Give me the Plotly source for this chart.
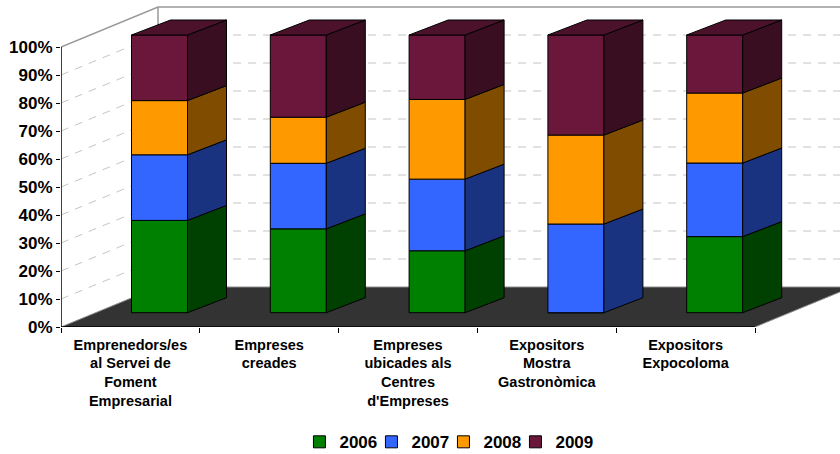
import plotly.graph_objects as go

# ---------------- data ----------------
categories = [
    "Emprenedors/es<br>al Servei de<br>Foment<br>Empresarial",
    "Empreses<br>creades",
    "Empreses<br>ubicades als<br>Centres<br>d'Empreses",
    "Expositors<br>Mostra<br>Gastronòmica",
    "Expositors<br>Expocoloma",
]
series_names = ["2006", "2007", "2008", "2009"]
v2006 = [33.2, 30.2, 22.3, 0.0, 27.4]
v2007 = [23.6, 23.6, 25.8, 31.9, 26.5]
v2008 = [19.5, 16.6, 28.7, 32.0, 25.2]
v2009 = [23.6, 29.6, 23.2, 36.0, 20.9]
y_ticks = [0, 10, 20, 30, 40, 50, 60, 70, 80, 90, 100]
y_tick_labels = [f"{t}%" for t in y_ticks]

# ---------------- style ----------------
front_colors = ["#008000", "#3366FF", "#FF9900", "#6A173B"]
side_colors = ["#004000", "#1A3380", "#804C00", "#380E20"]
top_colors = ["#005500", "#22439F", "#A56300", "#4C122C"]
FONT = "Liberation Sans, Arial, sans-serif"

FIG_W, FIG_H = 840, 454
L_M, T_M, B_M = 61, 5, 127
W_PX, P_PX = 138.8, 2.8
PLOT_W = FIG_W - L_M
PLOT_H = FIG_H - B_M - T_M
X_MAX = PLOT_W / W_PX
Y_MAX = PLOT_H / P_PX
DX, DY = 97 / W_PX, 40 / P_PX          # wall/floor depth
OX, BW = 70.5 / W_PX, 56 / W_PX        # bar front offset & width
BASE = 14.3 / P_PX                     # bar front bottom lift
SCALE = 277.7 / 280                    # bar height scale
BDX, BDY = 39 / W_PX, 15 / P_PX        # bar depth

series = [v2006, v2007, v2008, v2009]
n = len(categories)
totals = [sum(s[i] for s in series) for i in range(n)]
pct = [[s[i] / totals[i] * 100 for i in range(n)] for s in series]

fig = go.Figure()

def poly(xs, ys, fill, line_color=None, width=1, dash=None, close=True, axes=("x", "y")):
    if close:
        xs = list(xs) + [xs[0]]
        ys = list(ys) + [ys[0]]
    fig.add_trace(go.Scatter(
        x=xs, y=ys, mode="lines", xaxis=axes[0], yaxis=axes[1],
        fill="toself" if fill else None, fillcolor=fill,
        line=dict(color=line_color or "rgba(0,0,0,0)", width=width if line_color else 0, dash=dash),
        hoverinfo="skip", showlegend=False))

# ---- background layer (x / y) ----
poly([0, 5, 5 + DX, X_MAX + 1, X_MAX + 1, DX], [0, 0, DY, DY, DY, DY], "#333333")
poly([0, DX, 5 + DX + 1], [0, DY, DY], None, "#8C8C8C", 1, close=False)
poly([5, 5 + DX], [0, DY], None, "#8C8C8C", 1, close=False)

gx, gy = [], []
for t in y_ticks[1:-1]:
    gx += [0, DX, X_MAX + 1, None]
    gy += [t, t + DY, t + DY, None]
fig.add_trace(go.Scatter(x=gx, y=gy, mode="lines",
                         line=dict(color="#C4C4C4", width=1, dash="8px,7px"),
                         hoverinfo="skip", showlegend=False))
poly([0, DX, X_MAX + 1], [100, 100 + DY, 100 + DY], None, "#999999", 1.5, close=False)
poly([DX, DX], [DY, 100 + DY], None, "#999999", 1.5, close=False)

poly([0, 0], [0, 100], None, "black", 1.5, close=False)
poly([0, 5], [0, 0], None, "black", 1.5, close=False)

# ---- bar layer (x2 / y2, overlaid on top) ----
for k, name in enumerate(series_names):
    xs, bases, hs = [], [], []
    for i in range(n):
        below = sum(pct[j][i] for j in range(k))
        xs.append(i + OX + BW / 2)
        bases.append(BASE + below * SCALE)
        hs.append(pct[k][i] * SCALE)
    fig.add_trace(go.Bar(x=xs, y=hs, base=bases, width=BW, name=name,
                         xaxis="x2", yaxis="y2",
                         marker=dict(color=front_colors[k], line=dict(color="black", width=1)),
                         hoverinfo="skip"))
# spacer legend entry so the last label is not clipped (drawn off-range)
fig.add_trace(go.Bar(x=[-10], y=[0], name=" ", xaxis="x2", yaxis="y2",
                     marker=dict(color="rgba(0,0,0,0)", line=dict(width=0)),
                     hoverinfo="skip"))

for i in range(n):
    xl = i + OX
    xr = xl + BW
    cum = 0.0
    for k in range(len(series)):
        b = BASE + cum * SCALE
        cum += pct[k][i]
        t = BASE + cum * SCALE
        if t - b > 1e-6:
            poly([xr, xr + BDX, xr + BDX, xr], [b, b + BDY, t + BDY, t],
                 side_colors[k], "black", 1, axes=("x2", "y2"))
    T = BASE + cum * SCALE
    poly([xl, xl + BDX, xr + BDX, xr], [T, T + BDY, T + BDY, T],
         top_colors[-1], "black", 1, axes=("x2", "y2"))

fig.update_layout(
    width=FIG_W, height=FIG_H,
    margin=dict(l=L_M, r=0, t=T_M, b=B_M, autoexpand=False),
    paper_bgcolor="white", plot_bgcolor="white",
    barmode="overlay",
    font=dict(family=FONT, color="black"),
    xaxis=dict(range=[0, X_MAX], showgrid=False, zeroline=False, showline=False, automargin=False,
               tickmode="array", tickvals=[i + 0.5 for i in range(n)], ticktext=categories,
               ticks="", ticklabelstandoff=7,
               tickfont=dict(size=14.5, weight="bold", family=FONT, color="black")),
    xaxis2=dict(range=[0, X_MAX], overlaying="x", anchor="y2", side="bottom", automargin=False,
                showgrid=False, zeroline=False, showline=False,
                tickmode="array", tickvals=list(range(n + 1)), ticktext=[""] * (n + 1),
                ticks="outside", ticklen=5, tickcolor="black", tickwidth=1),
    yaxis=dict(range=[0, Y_MAX], showgrid=False, zeroline=False, showline=False, automargin=False,
               tickmode="array", tickvals=y_ticks, ticktext=y_tick_labels,
               ticks="outside", ticklen=4, tickcolor="black", tickwidth=1,
               tickfont=dict(size=17, weight="bold", family=FONT, color="black")),
    yaxis2=dict(range=[0, Y_MAX], overlaying="y", anchor="x2", automargin=False,
                showgrid=False, zeroline=False, showline=False, showticklabels=False, ticks=""),
    legend=dict(orientation="h", x=0.3061, xanchor="left", y=-0.358, yanchor="middle",
                font=dict(size=17, weight="bold", family=FONT, color="black"),
                itemwidth=30, entrywidth=27, traceorder="normal"),
)

fig.write_html("out.html", config={"displayModeBar": False},
               post_script="document.body.style.margin='0';")
